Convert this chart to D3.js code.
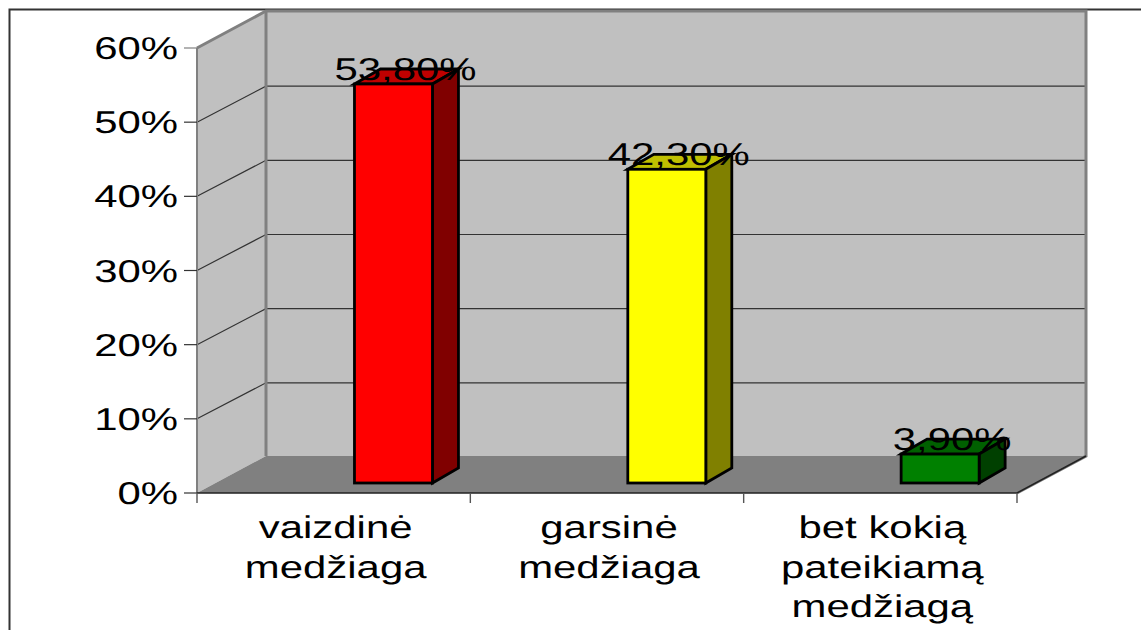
<!DOCTYPE html>
<html><head><meta charset="utf-8">
<script src="https://cdn.jsdelivr.net/npm/d3@7"></script>
<style>html,body{margin:0;padding:0;background:#fff;overflow:hidden}svg{display:block}text{font-family:"Liberation Sans",Arial,sans-serif;fill:#000;text-rendering:geometricPrecision}</style>
</head><body><script>
const categories = [["vaizdinė","medžiaga"],["garsinė","medžiaga"],["bet kokią","pateikiamą","medžiagą"]];
const values = [0.538,0.423,0.039];
const valueLabels = ["53,80%","42,30%","3,90%"];
const frontColors = ["#ff0000","#ffff00","#008000"];
const topColors = ["#bf0000","#bfbf00","#006000"];
const sideColors = ["#800000","#808000","#004000"];
const yTicks = [0,0.1,0.2,0.3,0.4,0.5,0.6];

const W=1141,H=630,dx=69,dy=-37,barDx=59.8,barDy=-10,bdx=26,bdy=-15,barW=78,sx=1.33,fs=31.5;
const svg=d3.select("body").append("svg").attr("width",W).attr("height",H);
const x=d3.scaleBand().domain(d3.range(categories.length)).range([197,1017]);
const y=d3.scaleLinear().domain([0,0.6]).range([493,48]);
const pts=a=>a.map(p=>p.join(",")).join(" ");
const txt=(g,s,px,py,anchor)=>g.append("text").attr("transform",`translate(${px},${py}) scale(${sx},1)`).attr("text-anchor",anchor).attr("font-size",fs).text(s);

// frame
svg.append("path").attr("d",`M9.5,${H}V9.5H${W}`).attr("fill","none").attr("stroke","#333").attr("stroke-width",2);

const [x0,x1]=x.range(),y0=y(0),y1=y(0.6);
// walls and floor
svg.append("polygon").attr("points",pts([[x0+dx,y1+dy],[x1+dx,y1+dy],[x1+dx,y0+dy],[x0+dx,y0+dy]])).attr("fill","#c0c0c0");
svg.append("polygon").attr("points",pts([[x0,y1],[x0+dx,y1+dy],[x0+dx,y0+dy],[x0,y0]])).attr("fill","#c0c0c0");
svg.append("polygon").attr("points",pts([[x0,y0],[x0+dx,y0+dy],[x1+dx,y0+dy],[x1,y0]])).attr("fill","#808080");

// gridlines
yTicks.slice(1,-1).forEach(t=>{
  svg.append("polyline").attr("points",pts([[x0,y(t)],[x0+dx,y(t)+dy+1],[x1+dx,y(t)+dy+1]])).attr("fill","none").attr("stroke","#333").attr("stroke-width",1.2);
});
// wall edges
svg.append("polyline").attr("points",pts([[x0,y1],[x0+dx,y1+dy],[x1+dx,y1+dy],[x1+dx,y0+dy],[x1,y0]])).attr("fill","none").attr("stroke","#808080").attr("stroke-width",3);
svg.append("line").attr("x1",x0+dx).attr("x2",x0+dx).attr("y1",y1+dy).attr("y2",y0+dy).attr("stroke","#808080").attr("stroke-width",3);
svg.append("line").attr("x1",x0).attr("x2",x0).attr("y1",y1).attr("y2",y0).attr("stroke","#808080").attr("stroke-width",2);
svg.append("polyline").attr("points",pts([[x0,y0],[x1,y0],[x1+dx,y0+dy]])).attr("fill","none").attr("stroke","#222").attr("stroke-width",1.5);

// ticks
yTicks.forEach(t=>{
  svg.append("line").attr("x1",x0-13).attr("x2",x0).attr("y1",y(t)).attr("y2",y(t)).attr("stroke",t===0.6?"#808080":"#333").attr("stroke-width",1.2);
  txt(svg,d3.format(".0%")(t),178,y(t)+11,"end");
});
d3.range(categories.length+1).forEach(i=>{
  const px=i<categories.length?x(i):x1;
  svg.append("line").attr("x1",px).attr("x2",px).attr("y1",y0).attr("y2",y0+10).attr("stroke","#555").attr("stroke-width",1.4);
});

// bars
values.forEach((v,i)=>{
  const l=x(i)+x.bandwidth()/2+barDx-barW/2,r=l+barW,b=y(0)+barDy,t=y(v)+barDy;
  const g=svg.append("g").attr("stroke","#000").attr("stroke-width",2.8).attr("stroke-linejoin","miter");
  g.append("polygon").attr("points",pts([[l,t],[l+bdx,t+bdy],[r+bdx,t+bdy],[r,t]])).attr("fill",topColors[i]);
  g.append("polygon").attr("points",pts([[r,t],[r+bdx,t+bdy],[r+bdx,b+bdy],[r,b]])).attr("fill",sideColors[i]);
  g.append("rect").attr("x",l).attr("y",t).attr("width",barW).attr("height",b-t).attr("fill",frontColors[i]);
});
// value labels
values.forEach((v,i)=>{
  txt(svg,valueLabels[i],x(i)+x.bandwidth()/2+barDx+12,y(v)+barDy-4,"middle");
});
// category labels
categories.forEach((lines,i)=>{
  lines.forEach((s,j)=>txt(svg,s,x(i)+x.bandwidth()/2+2,538+j*39.5,"middle"));
});
</script></body></html>
